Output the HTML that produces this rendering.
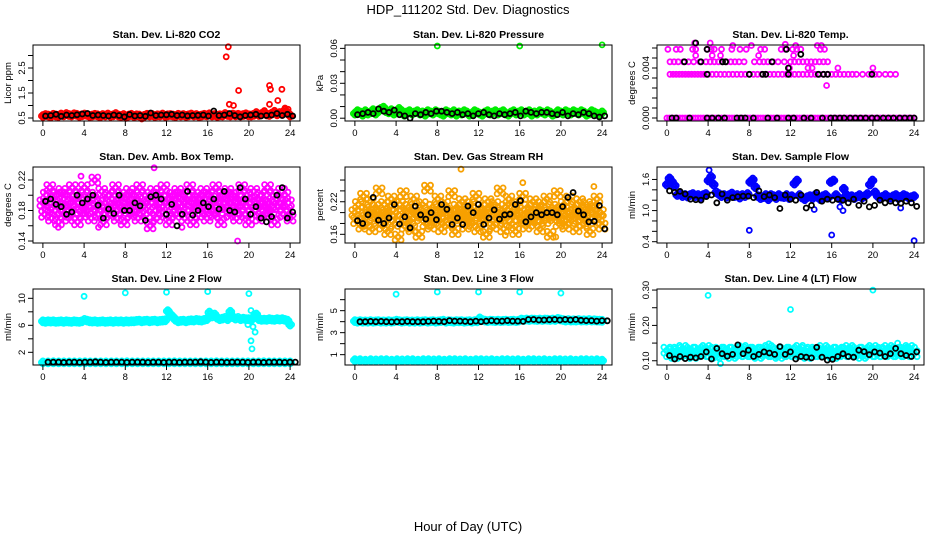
<!DOCTYPE html>
<html><head><meta charset="utf-8"><title>HDP_111202 Std. Dev. Diagnostics</title>
<style>
html,body{margin:0;padding:0;background:#fff;}
svg{display:block;font-family:"Liberation Sans",Arial,sans-serif;}
</style></head>
<body>
<svg id="chart" width="936" height="540" viewBox="0 0 936 540">
<text x="468" y="14" text-anchor="middle" font-size="13">HDP_111202  Std. Dev. Diagnostics</text>
<text x="468" y="531" text-anchor="middle" font-size="13">Hour of Day (UTC)</text>
</svg>
<script>
// ---------- data ----------
const xTicks = [0,4,8,12,16,20,24];
// Panel 1 CO2
const co2Color = [0.58,0.62,0.6,0.57,0.63,0.6,0.59,0.64,0.61,0.66,0.62,0.6,0.65,0.63,0.59,0.61,0.64,0.62,0.58,0.6,0.63,0.61,0.57,0.62,0.6,0.64,0.59,0.61,0.66,0.6,0.58,0.62,0.55,0.6,0.63,0.58,0.61,0.6,0.52,0.59,0.63,0.6,0.62,0.58,0.61,0.6,0.64,0.59,0.61,0.62,0.6,0.58,0.63,0.6,0.62,0.59,0.61,0.64,0.6,0.62,0.58,0.6,0.63,0.61,0.65,0.6,0.62,0.59,0.61,0.6,0.66,0.62,0.6,0.64,0.61,0.63,0.6,0.62,0.65,0.61,0.6,0.63,0.7,0.62,0.66,0.72,0.64,0.62,0.68,0.75,0.65,0.7,0.66,0.8,0.7,0.6];
const co2Black = [0.58,0.6,0.65,0.57,0.62,0.6,0.63,0.66,0.68,0.6,0.62,0.6,0.58,0.62,0.6,0.55,0.64,0.58,0.6,0.57,0.7,0.6,0.62,0.63,0.65,0.6,0.62,0.59,0.6,0.61,0.62,0.58,0.78,0.6,0.62,0.68,0.6,0.55,0.6,0.62,0.65,0.58,0.6,0.62,0.68,0.6,0.65,0.58];
const co2OutX = [18,17.8,19,18.1,18.5,22,22.1,23.2,22.8,22,23.5,21.5,23.8];
const co2OutY = [3.35,2.95,1.6,1.05,1.0,1.8,1.65,1.65,1.2,1.05,0.9,0.8,0.85];
// Panel 2 Pressure
const presColor = [0.004,0.006,0.005,0.003,0.006,0.004,0.005,0.007,0.004,0.006,0.008,0.009,0.006,0.005,0.007,0.004,0.005,0.008,0.006,0.003,0.005,0.006,0.004,0.005,0.006,0.004,0.005,0.003,0.006,0.005,0.004,0.006,0.005,0.004,0.003,0.006,0.005,0.004,0.006,0.003,0.005,0.004,0.006,0.005,0.003,0.004,0.006,0.005,0.004,0.003,0.005,0.006,0.004,0.005,0.006,0.004,0.005,0.006,0.004,0.003,0.005,0.006,0.004,0.005,0.006,0.004,0.005,0.006,0.003,0.005,0.004,0.006,0.005,0.004,0.006,0.005,0.003,0.004,0.006,0.005,0.004,0.006,0.005,0.004,0.006,0.005,0.004,0.006,0.005,0.003,0.004,0.006,0.005,0.004,0.003,0.005];
const presBlack = [0.003,0.004,0.005,0.004,0.008,0.006,0.005,0.007,0.003,0.002,0.0,0.004,0.003,0.005,0.004,0.006,0.006,0.005,0.004,0.005,0.003,0.004,0.002,0.004,0.005,0.003,0.002,0.004,0.003,0.004,0.005,0.002,0.006,0.005,0.004,0.005,0.005,0.004,0.003,0.005,0.002,0.004,0.003,0.005,0.004,0.002,0.001,0.002];
const presOutX = [8,16,24];
const presOutY = [0.062,0.062,0.063];
// Panel 3 Li-820 Temp (discrete levels)
const tempZero = [0,0,0,0,0,0,0,0,0,0,0,0,0,0,0,0,0,0,0,0,0,0,0,0,0,0,0,0,0,0,0,0,0,0,0,0,0,0,0,0,0,0,0,0,0,0,0,0,0,0,0,0,0,0,0,0,0,0,0,0,0,0,0,0,0,0,0,0,0,0,0,0,0,0,0,0,0,0,0,0,0,0,0,0,0,0,0,0,0,0,0,0,0,0,0,0];
const tempLevelX = [0.3,0.6,0.9,1.2,1.5,1.8,2.1,2.4,2.7,3,3.3,3.6,4,4.4,4.8,5.2,5.6,6,6.4,6.8,7.2,7.6,8,8.4,8.8,9.2,9.6,10,10.4,10.8,11.2,11.6,12,12.4,12.8,13.2,13.6,14,14.4,14.8,15.2,15.6,16,16.4,16.8,17.2,17.6,18,18.4,19,19.6,20.2,20.6,21.2,21.7,22.2,
 0.3,0.7,1.1,1.6,2.1,2.6,3.2,3.8,4.2,4.6,5,5.4,5.8,6.2,6.6,7,7.5,8.5,9,9.4,9.8,10.3,10.8,11.4,12,12.4,12.8,13.2,13.6,14,14.4,14.8,15.2,15.6,
 0.1,0.9,1.3,2.5,2.8,3.9,4.3,4.6,5.3,6.3,7.1,7.7,9.1,9.5,11.1,11.5,12.2,12.6,13,14.9,15.3,
 2.7,4.2,6.4,8.2,11.5,12.5,15,16.6,20,2.8,4.4,5.2,8.9,11.9,12.3,13.7,14.1,14.6,15.5];
const tempLevelY = [0.0035,0.0035,0.0035,0.0035,0.0035,0.0035,0.0035,0.0035,0.0035,0.0035,0.0035,0.0035,0.0035,0.0035,0.0035,0.0035,0.0035,0.0035,0.0035,0.0035,0.0035,0.0035,0.0035,0.0035,0.0035,0.0035,0.0035,0.0035,0.0035,0.0035,0.0035,0.0035,0.0035,0.0035,0.0035,0.0035,0.0035,0.0035,0.0035,0.0035,0.0035,0.0035,0.0035,0.0035,0.0035,0.0035,0.0035,0.0035,0.0035,0.0035,0.0035,0.0035,0.0035,0.0035,0.0035,0.0035,
 0.0045,0.0045,0.0045,0.0045,0.0045,0.0045,0.0045,0.0045,0.0045,0.0045,0.0045,0.0045,0.0045,0.0045,0.0045,0.0045,0.0045,0.0045,0.0045,0.0045,0.0045,0.0045,0.0045,0.0045,0.0045,0.0045,0.0045,0.0045,0.0045,0.0045,0.0045,0.0045,0.0045,0.0045,
 0.0055,0.0055,0.0055,0.0055,0.0055,0.0055,0.0055,0.0055,0.0055,0.0055,0.0055,0.0055,0.0055,0.0055,0.0055,0.0055,0.0055,0.0055,0.0055,0.0055,0.0055,
 0.006,0.006,0.0058,0.0058,0.0059,0.0058,0.0058,0.004,0.004,0.005,0.005,0.005,0.005,0.004,0.005,0.004,0.004,0.0058,0.0026];
const tempBlackX = [0.5,0.9,2.2,3.9,4.4,5,5.6,6.8,7.2,7.6,8.4,9.8,10.7,11.8,12.3,13.3,14,15.1,15.9,16.3,16.8,17.2,17.8,18.3,18.8,19.3,19.9,20.4,21,21.5,22,22.6,23.1,23.6,24,
 3.9,8,9.3,9.6,11.8,14.7,15.2,15.6,19.9,1.7,3.3,5.4,5.7,10.2,11.8,3.9,11.6,13,2.8];
const tempBlackY = [0,0,0,0,0,0,0,0,0,0,0,0,0,0,0,0,0,0,0,0,0,0,0,0,0,0,0,0,0,0,0,0,0,0,0,
 0.0035,0.0035,0.0035,0.0035,0.0035,0.0035,0.0035,0.0035,0.0035,0.0045,0.0045,0.0045,0.0045,0.0045,0.004,0.0055,0.0055,0.0051,0.006];
// Panel 4 Amb Box Temp
const ambColor = [0.19,0.175,0.2,0.185,0.21,0.17,0.195,0.18,0.2,0.165,0.19,0.205,0.175,0.185,0.2,0.17,0.19,0.21,0.18,0.195,0.165,0.2,0.185,0.175,0.21,0.19,0.18,0.2,0.17,0.195,0.22,0.185,0.175,0.19,0.205,0.165,0.19,0.18,0.2,0.175,0.195,0.185,0.21,0.17,0.19,0.2,0.18,0.165,0.195,0.185,0.205,0.175,0.19,0.2,0.18,0.17,0.21,0.19,0.185,0.2,0.175,0.195,0.16,0.19,0.205,0.18,0.17,0.2,0.19,0.185,0.21,0.175,0.195,0.165,0.19,0.2,0.18,0.175,0.205,0.19,0.185,0.2,0.17,0.195,0.18,0.21,0.19,0.165,0.2,0.185,0.175,0.195,0.19,0.205,0.18,0.17,0.2,0.185,0.19,0.175,0.21,0.195,0.18,0.165,0.2,0.19,0.185,0.205,0.175,0.19,0.2,0.18,0.17,0.195,0.185,0.21,0.19,0.175,0.2,0.165,0.19,0.185,0.205,0.18,0.195,0.17,0.2,0.19,0.185,0.175,0.21,0.19,0.18,0.2,0.165,0.195,0.185,0.19,0.205,0.175,0.2,0.18,0.19,0.17];
const ambBlack = [0.192,0.195,0.188,0.185,0.175,0.178,0.2,0.19,0.195,0.2,0.187,0.17,0.182,0.176,0.2,0.18,0.18,0.19,0.186,0.167,0.198,0.2,0.195,0.175,0.188,0.16,0.175,0.205,0.174,0.18,0.19,0.185,0.195,0.182,0.205,0.18,0.178,0.21,0.195,0.175,0.185,0.17,0.165,0.172,0.2,0.21,0.17,0.178];
const ambOutX = [10.8,18.9,1.5,3.7,5.4,13.5];
const ambOutY = [0.236,0.14,0.158,0.225,0.158,0.158];
// Panel 5 Gas Stream RH
const rhColor = [0.2,0.185,0.215,0.19,0.175,0.23,0.205,0.18,0.195,0.22,0.17,0.2,0.21,0.185,0.24,0.195,0.175,0.215,0.2,0.165,0.19,0.225,0.205,0.18,0.2,0.155,0.215,0.19,0.235,0.175,0.2,0.21,0.185,0.17,0.225,0.195,0.205,0.16,0.19,0.215,0.2,0.18,0.245,0.195,0.175,0.21,0.19,0.2,0.225,0.185,0.17,0.205,0.215,0.195,0.18,0.2,0.235,0.19,0.165,0.21,0.2,0.185,0.22,0.195,0.175,0.205,0.19,0.215,0.18,0.2,0.23,0.17,0.195,0.21,0.185,0.2,0.16,0.22,0.19,0.205,0.175,0.215,0.2,0.185,0.24,0.195,0.17,0.21,0.19,0.225,0.2,0.18,0.205,0.165,0.215,0.19,0.2,0.23,0.185,0.175,0.21,0.195,0.2,0.22,0.18,0.19,0.205,0.17,0.215,0.2,0.185,0.225,0.195,0.16,0.21,0.19,0.2,0.235,0.18,0.205,0.19,0.215,0.175,0.2,0.225,0.185,0.195,0.21,0.17,0.2,0.22,0.19,0.18,0.205,0.215,0.195,0.165,0.2,0.21,0.185,0.225,0.19,0.2,0.175];
const rhBlack = [0.185,0.18,0.196,0.228,0.186,0.18,0.19,0.215,0.179,0.192,0.172,0.212,0.196,0.188,0.2,0.187,0.215,0.206,0.178,0.19,0.178,0.212,0.2,0.215,0.178,0.19,0.205,0.188,0.196,0.197,0.215,0.222,0.183,0.192,0.2,0.196,0.2,0.2,0.196,0.211,0.228,0.237,0.203,0.196,0.183,0.184,0.213,0.17];
const rhOutX = [10.3,16.3,23.2,19.5,14.6];
const rhOutY = [0.28,0.255,0.248,0.155,0.158];
// Panel 6 Sample Flow
const flowColor = [1.5,1.62,1.55,1.48,1.3,1.32,1.28,1.3,1.27,1.3,1.32,1.28,1.3,1.26,1.3,1.32,1.58,1.65,1.5,1.35,1.32,1.28,1.3,1.27,1.3,1.33,1.28,1.3,1.25,1.3,1.28,1.32,1.55,1.6,1.45,1.28,1.24,1.26,1.3,1.22,1.3,1.28,1.24,1.3,1.27,1.26,1.3,1.24,1.28,1.52,1.58,1.3,1.25,1.22,1.26,1.28,1.24,1.3,1.26,1.22,1.28,1.3,1.25,1.55,1.58,1.3,1.24,1.22,1.42,1.3,1.26,1.28,1.24,1.27,1.3,1.25,1.28,1.32,1.5,1.58,1.35,1.28,1.24,1.27,1.3,1.26,1.25,1.28,1.3,1.24,1.27,1.3,1.28,1.25,1.26,1.28];
const flowBlack = [1.38,1.35,1.37,1.32,1.22,1.21,1.2,1.27,1.3,1.15,1.32,1.2,1.25,1.27,1.28,1.28,1.25,1.38,1.27,1.3,1.25,1.04,1.3,1.22,1.2,1.3,1.05,1.1,1.35,1.18,1.22,1.2,1.22,1.2,1.15,1.22,1.1,1.18,1.07,1.1,1.2,1.15,1.18,1.15,1.14,1.18,1.15,1.08];
const flowOutX = [4.1,8,16,24,0.3,17.1,14.3,22.7,16.8];
const flowOutY = [1.78,0.62,0.53,0.42,1.63,1.0,1.02,1.05,1.07];
// Panel 7 Line 2 Flow
const l2Upper = [6.6,6.5,6.6,6.55,6.6,6.5,6.55,6.6,6.5,6.6,6.55,6.5,6.6,6.55,6.5,6.6,6.8,6.7,6.6,6.55,6.6,6.5,6.55,6.6,6.5,6.55,6.6,6.5,6.6,6.55,6.6,6.5,6.6,6.55,6.6,6.6,6.65,6.7,6.6,6.65,6.7,6.6,6.65,6.7,6.6,6.65,6.7,6.75,8.1,7.6,7.2,6.8,6.6,6.65,6.7,6.6,6.7,6.75,6.7,6.8,6.75,6.7,6.8,6.9,7.9,7.3,7.6,7.1,6.9,7.0,7.1,6.9,8.0,7.2,7.0,7.1,6.9,7.0,6.9,6.9,6.8,7.2,7.6,6.9,6.8,6.85,6.8,6.9,6.85,6.8,6.9,6.85,6.9,6.8,6.7,6.1];
const l2Lower = [0.5,0.5,0.52,0.5,0.5,0.51,0.5,0.5,0.52,0.5,0.5,0.5,0.51,0.5,0.5,0.5,0.52,0.5,0.5,0.5,0.51,0.5,0.5,0.5,0.5,0.52,0.5,0.5,0.51,0.5,0.5,0.5,0.5,0.52,0.5,0.5,0.5,0.51,0.5,0.5,0.5,0.5,0.52,0.5,0.5,0.51,0.5,0.5];
const l2Black = [0.55,0.55,0.55,0.5,0.55,0.55,0.5,0.55,0.55,0.6,0.55,0.5,0.55,0.55,0.55,0.5,0.55,0.55,0.55,0.5,0.55,0.55,0.5,0.55,0.55,0.5,0.55,0.55,0.55,0.6,0.55,0.5,0.55,0.55,0.5,0.55,0.55,0.55,0.5,0.55,0.55,0.5,0.55,0.55,0.55,0.5,0.55,0.55];
const l2OutX = [4,8,12,16,20,20.2,20.5,19.9,20.4,20.6,20.2,20.3];
const l2OutY = [10.3,10.8,10.9,11,10.7,8.2,7.7,6.1,5.8,5.0,3.7,2.5];
// Panel 8 Line 3 Flow
const l3Upper = [4.05,4.0,4.05,4.0,4.02,4.0,4.05,4.0,4.02,4.05,4.0,4.02,4.0,4.05,4.0,4.02,4.1,4.05,4.0,4.02,4.05,4.0,4.02,4.0,4.05,4.0,4.02,4.05,4.0,4.02,4.05,4.0,4.02,4.05,4.1,4.0,4.05,4.02,4.0,4.05,4.02,4.05,4.0,4.02,4.05,4.0,4.05,4.02,4.3,4.15,4.1,4.05,4.1,4.08,4.05,4.1,4.05,4.08,4.1,4.05,4.08,4.1,4.05,4.1,4.2,4.15,4.2,4.15,4.2,4.18,4.15,4.2,4.15,4.2,4.18,4.15,4.2,4.15,4.25,4.2,4.15,4.1,4.15,4.1,4.12,4.1,4.15,4.1,4.12,4.1,4.15,4.1,4.12,4.1,4.1,4.08];
const l3Lower = [0.5,0.5,0.45,0.5,0.48,0.5,0.5,0.45,0.5,0.48,0.5,0.5,0.45,0.5,0.5,0.48,0.5,0.45,0.5,0.5,0.48,0.5,0.45,0.5,0.5,0.48,0.5,0.45,0.5,0.5,0.48,0.5,0.45,0.5,0.5,0.48,0.5,0.45,0.5,0.5,0.48,0.5,0.45,0.5,0.5,0.48,0.5,0.45];
const l3Black = [4.0,4.0,4.02,4.0,4.02,4.0,3.98,4.0,4.0,4.02,4.0,4.0,4.0,4.02,4.05,4.02,4.0,4.1,4.05,4.05,4.02,4.0,4.05,4.0,4.05,4.1,4.05,4.05,4.1,4.05,4.05,4.02,4.2,4.2,4.15,4.15,4.18,4.2,4.15,4.2,4.15,4.2,4.12,4.1,4.1,4.05,4.1,4.08];
const l3OutX = [4,8,12,16,20];
const l3OutY = [6.5,6.7,6.7,6.7,6.6];
// Panel 9 Line 4 Flow
const l4Color = [0.13,0.12,0.125,0.115,0.13,0.12,0.135,0.12,0.125,0.13,0.115,0.12,0.13,0.125,0.12,0.135,0.13,0.12,0.125,0.115,0.13,0.12,0.125,0.13,0.12,0.115,0.13,0.125,0.12,0.135,0.12,0.13,0.125,0.12,0.13,0.115,0.125,0.13,0.12,0.135,0.125,0.12,0.13,0.115,0.12,0.13,0.125,0.12,0.13,0.12,0.125,0.135,0.12,0.13,0.115,0.125,0.12,0.13,0.125,0.12,0.135,0.12,0.125,0.13,0.115,0.12,0.13,0.125,0.12,0.13,0.135,0.12,0.125,0.13,0.12,0.115,0.13,0.125,0.12,0.135,0.13,0.12,0.125,0.12,0.13,0.135,0.12,0.125,0.13,0.12,0.125,0.13,0.12,0.135,0.13,0.12];
const l4Black = [0.115,0.105,0.112,0.106,0.11,0.108,0.112,0.125,0.105,0.135,0.12,0.113,0.118,0.145,0.12,0.13,0.112,0.118,0.125,0.122,0.118,0.14,0.118,0.125,0.105,0.112,0.11,0.108,0.138,0.11,0.102,0.104,0.112,0.12,0.112,0.11,0.13,0.126,0.117,0.125,0.122,0.112,0.12,0.135,0.12,0.115,0.112,0.125];
const l4OutX = [4,12,20,22.4,9.9,5.2];
const l4OutY = [0.285,0.245,0.3,0.15,0.148,0.092];

// ---------- drawing ----------
const NS = "http://www.w3.org/2000/svg";
const svg = document.getElementById("chart");
const BOXW = 267, BOXH = 76;
const XMIN = -0.96, XMAX = 24.96;
const lefts = [33, 345, 657], tops = [45, 167, 289];
// stylistic marker clusters (pixel offsets) to mimic dense overplotting
const BAND_OFFS = [[-1.5,0],[1.5,0],[0,-1.5],[0,1.5]];
const CLOUD_OFFS = [[0,0],[-3,-3],[3,3],[3,-3],[-3,3]];

function mk(tag, attrs, parent) {
  const e = document.createElementNS(NS, tag);
  for (const k in attrs) e.setAttribute(k, attrs[k]);
  (parent || svg).appendChild(e);
  return e;
}
function indexHours(vals) { return vals.map((v, i) => i * 24 / (vals.length - 1)); }

const panels = [
  {title:"Stan. Dev. Li-820 CO2", ylab:"Licor ppm", ymin:0.38, ymax:3.42, yt:[0.5,1,1.5,2,2.5,3], yl:["0.5","1.5","2.5"], ylv:[0.5,1.5,2.5],
   series:[{x:indexHours(co2Color), y:co2Color, c:"#ff0000", d:"band"},{x:co2OutX,y:co2OutY,c:"#ff0000"},{x:indexHours(co2Black).map(h=>h+0.25),y:co2Black,c:"#000"}]},
  {title:"Stan. Dev. Li-820 Pressure", ylab:"kPa", ymin:-0.0024, ymax:0.0629, yt:[0,0.01,0.02,0.03,0.04,0.05,0.06], yl:["0.00","0.03","0.06"], ylv:[0,0.03,0.06],
   series:[{x:indexHours(presColor), y:presColor, c:"#00ee00", d:"band"},{x:presOutX,y:presOutY,c:"#00ee00"},{x:indexHours(presBlack).map(h=>h+0.25),y:presBlack,c:"#000"}]},
  {title:"Stan. Dev. Li-820 Temp.", ylab:"degrees C", ymin:-0.00024, ymax:0.00584, yt:[0,0.0008,0.0016,0.0024,0.0032,0.004,0.0048,0.0056], yl:["0.000","0.004"], ylv:[0,0.004],
   series:[{x:indexHours(tempZero), y:tempZero, c:"#ff00ff"},{x:tempLevelX,y:tempLevelY,c:"#ff00ff"},{x:tempBlackX,y:tempBlackY,c:"#000"}]},
  {title:"Stan. Dev. Amb. Box Temp.", ylab:"degrees C", ymin:0.1374, ymax:0.237, yt:[0.14,0.16,0.18,0.2,0.22], yl:["0.14","0.18","0.22"], ylv:[0.14,0.18,0.22],
   series:[{x:indexHours(ambColor), y:ambColor, c:"#ff00ff", d:"cloud"},{x:ambOutX,y:ambOutY,c:"#ff00ff"},{x:indexHours(ambBlack).map(h=>h+0.25),y:ambBlack,c:"#000"}]},
  {title:"Stan. Dev. Gas Stream RH", ylab:"percent", ymin:0.144, ymax:0.284, yt:[0.16,0.18,0.2,0.22,0.24,0.26], yl:["0.16","0.22"], ylv:[0.16,0.22],
   series:[{x:indexHours(rhColor), y:rhColor, c:"#f7a000", d:"cloud"},{x:rhOutX,y:rhOutY,c:"#f7a000"},{x:indexHours(rhBlack).map(h=>h+0.25),y:rhBlack,c:"#000"}]},
  {title:"Stan. Dev. Sample Flow", ylab:"ml/min", ymin:0.375, ymax:1.84, yt:[0.4,0.6,0.8,1,1.2,1.4,1.6], yl:["0.4","1.0","1.6"], ylv:[0.4,1,1.6],
   series:[{x:indexHours(flowColor), y:flowColor, c:"#0000ff", d:"band"},{x:flowOutX,y:flowOutY,c:"#0000ff"},{x:indexHours(flowBlack).map(h=>h+0.25),y:flowBlack,c:"#000"}]},
  {title:"Stan. Dev. Line 2 Flow", ylab:"ml/min", ymin:0.12, ymax:11.38, yt:[2,4,6,8,10], yl:["2","6","10"], ylv:[2,6,10],
   series:[{x:indexHours(l2Upper), y:l2Upper, c:"#00ffff", d:"band"},{x:indexHours(l2Lower), y:l2Lower, c:"#00ffff", d:"band"},{x:l2OutX,y:l2OutY,c:"#00ffff"},{x:indexHours(l2Black).map(h=>h+0.5),y:l2Black,c:"#000"}]},
  {title:"Stan. Dev. Line 3 Flow", ylab:"ml/min", ymin:0.06, ymax:6.97, yt:[1,2,3,4,5,6], yl:["1","3","5"], ylv:[1,3,5],
   series:[{x:indexHours(l3Upper), y:l3Upper, c:"#00ffff", d:"band"},{x:indexHours(l3Lower), y:l3Lower, c:"#00ffff", d:"band"},{x:l3OutX,y:l3OutY,c:"#00ffff"},{x:indexHours(l3Black).map(h=>h+0.5),y:l3Black,c:"#000"}]},
  {title:"Stan. Dev. Line 4 (LT) Flow", ylab:"ml/min", ymin:0.088, ymax:0.303, yt:[0.1,0.15,0.2,0.25,0.3], yl:["0.10","0.20","0.30"], ylv:[0.1,0.2,0.3],
   series:[{x:indexHours(l4Color), y:l4Color, c:"#00ffff", d:"cloud"},{x:l4OutX,y:l4OutY,c:"#00ffff"},{x:indexHours(l4Black).map(h=>h+0.25),y:l4Black,c:"#000"}]}
];
const panelNames = ["co2","pressure","li820-temp","amb-box-temp","gas-stream-rh","sample-flow","line2-flow","line3-flow","line4-flow"];

panels.forEach((p, idx) => {
  const L = lefts[idx % 3], T = tops[Math.floor(idx / 3)];
  const g = mk("g", {});
  
  
  const xs = h => L + (h - XMIN) / (XMAX - XMIN) * BOXW;
  const ys = v => T + BOXH - (v - p.ymin) / (p.ymax - p.ymin) * BOXH;

  const t = mk("text", {x: L + BOXW / 2, y: T - 7, "text-anchor": "middle", "font-size": "10.5", "font-weight": "bold"}, g);
  t.textContent = p.title;
  
  

  const pg = mk("g", {fill: "none", "stroke-width": "1.8"}, g);
  
  
  p.series.forEach(s => {
    const offs = s.d === "band" ? BAND_OFFS : (s.d === "cloud" ? CLOUD_OFFS : [[0,0]]);
    s.x.forEach((h, i) => {
      const cx = xs(h), cy = ys(s.y[i]);
      offs.forEach(o => {
        const c = mk("circle", {cx: (cx + o[0]).toFixed(1), cy: (cy + o[1]).toFixed(1), r: 2.5, stroke: s.c}, pg);
        
        
      });
    });
  });

  const box = mk("rect", {x: L, y: T, width: BOXW, height: BOXH, fill: "none", stroke: "#000", "stroke-width": "1"}, g);
  
  

  const xa = mk("g", {stroke: "#000", "stroke-width": "1"}, g);
  
  
  mk("line", {x1: xs(0), x2: xs(24), y1: T + BOXH, y2: T + BOXH}, xa);
  xTicks.forEach(v => {
    mk("line", {x1: xs(v), x2: xs(v), y1: T + BOXH, y2: T + BOXH + 5}, xa);
    const lt = mk("text", {x: xs(v), y: T + BOXH + 15, "text-anchor": "middle", "font-size": "9.5", stroke: "none"}, xa);
    lt.textContent = String(v);
    
    
  });

  const ya = mk("g", {stroke: "#000", "stroke-width": "1"}, g);
  
  
  mk("line", {x1: L, x2: L, y1: ys(p.yt[0]), y2: ys(p.yt[p.yt.length - 1])}, ya);
  p.yt.forEach(v => { mk("line", {x1: L - 5, x2: L, y1: ys(v), y2: ys(v)}, ya); });
  p.yl.forEach((lab, i) => {
    const yy = ys(p.ylv[i]);
    const lt = mk("text", {x: L - 8, y: yy, "text-anchor": "middle", "font-size": "9.5", stroke: "none", transform: `rotate(-90 ${L - 8} ${yy})`}, ya);
    lt.textContent = lab;
    
    
  });
  const yt = mk("text", {x: L - 22, y: T + BOXH / 2, "text-anchor": "middle", "font-size": "9.5", transform: `rotate(-90 ${L - 22} ${T + BOXH / 2})`}, g);
  yt.textContent = p.ylab;
  
  
});
</script>
</body></html>
